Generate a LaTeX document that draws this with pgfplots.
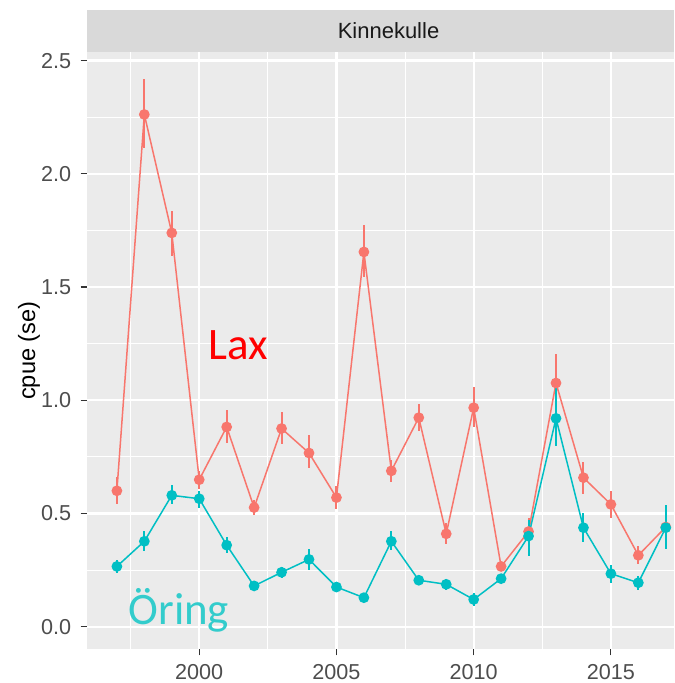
\documentclass[border=0pt]{standalone}
\usepackage{fontspec}
\setmainfont{Liberation Sans}
\newfontfamily\carlito{Carlito}
\usepackage{pgfplots}
\usepackage{pgfplotstable}
\pgfplotsset{compat=1.18}

\definecolor{laxred}{HTML}{F8766D}
\definecolor{oringteal}{HTML}{00BFC4}
\definecolor{panelgray}{HTML}{EBEBEB}
\definecolor{stripgray}{HTML}{D9D9D9}
\definecolor{ticktext}{HTML}{4D4D4D}
\definecolor{tickmark}{HTML}{333333}
\definecolor{labteal}{HTML}{33CCCC}

% cpue with upper / lower se
\pgfplotstableread{
year cpue up down
1997 0.600 0.060 0.060
1998 2.262 0.156 0.150
1999 1.739 0.096 0.100
2000 0.649 0.040 0.040
2001 0.882 0.073 0.070
2002 0.526 0.035 0.035
2003 0.875 0.075 0.070
2004 0.767 0.078 0.067
2005 0.570 0.050 0.050
2006 1.655 0.118 0.109
2007 0.688 0.050 0.050
2008 0.923 0.062 0.060
2009 0.410 0.050 0.045
2010 0.967 0.090 0.085
2011 0.266 0.020 0.020
2012 0.420 0.060 0.050
2013 1.076 0.130 0.125
2014 0.658 0.070 0.070
2015 0.540 0.060 0.060
2016 0.315 0.040 0.040
2017 0.440 0.050 0.050
}\lax

\pgfplotstableread{
year cpue up down
1997 0.266 0.030 0.030
1998 0.377 0.045 0.045
1999 0.580 0.045 0.040
2000 0.565 0.035 0.040
2001 0.360 0.035 0.035
2002 0.180 0.020 0.020
2003 0.240 0.025 0.025
2004 0.297 0.045 0.045
2005 0.175 0.020 0.020
2006 0.128 0.015 0.015
2007 0.377 0.045 0.040
2008 0.205 0.020 0.020
2009 0.187 0.025 0.025
2010 0.120 0.030 0.030
2011 0.212 0.020 0.020
2012 0.400 0.070 0.090
2013 0.920 0.140 0.120
2014 0.437 0.065 0.065
2015 0.234 0.040 0.040
2016 0.194 0.030 0.030
2017 0.437 0.100 0.095
}\oring

\begin{document}
\begin{tikzpicture}
\useasboundingbox (0,0) rectangle (337pt,341.5pt);
\begin{axis}[
    name=ax,
    at={(43.35pt,16.85pt)}, anchor=south west,
    scale only axis,
    width=293.65pt, height=298.65pt,
    xmin=1995.9, xmax=2017.3,
    ymin=-0.1, ymax=2.538,
    axis background/.style={fill=panelgray},
    axis line style={draw=none},
    grid=both,
    major grid style={white, line width=1.1pt},
    minor grid style={white, line width=0.55pt},
    xtick={2000,2005,2010,2015},
    xticklabels={2000,2005,2010,2015},
    minor xtick={1997.5,2002.5,2007.5,2012.5,2017.5},
    ytick={0,0.5,1,1.5,2,2.5},
    yticklabels={0.0,0.5,1.0,1.5,2.0,2.5},
    minor ytick={0.25,0.75,1.25,1.75,2.25},
    tick align=outside,
    xtick pos=bottom, ytick pos=left,
    major tick length=3pt, minor tick length=0pt,
    tick style={tickmark, line width=0.55pt},
    ticklabel style={font=\fontsize{10.8}{12}\selectfont, text=ticktext},
    xticklabel style={anchor=north, inner sep=0pt, yshift=-4.3pt},
    yticklabel style={anchor=east, inner sep=0pt, xshift=-4.6pt},
]
\addplot[laxred, line width=0.75pt, mark=*, mark size=2.3pt,
    mark options={solid, fill=laxred, draw=laxred},
    error bars/.cd, y dir=both, y explicit, error mark=none,
    error bar style={line width=1pt, laxred}]
    table[x=year, y=cpue, y error plus=up, y error minus=down] {\lax};
\addplot[oringteal, line width=0.75pt, mark=*, mark size=2.3pt,
    mark options={solid, fill=oringteal, draw=oringteal},
    error bars/.cd, y dir=both, y explicit, error mark=none,
    error bar style={line width=1pt, oringteal}]
    table[x=year, y=cpue, y error plus=up, y error minus=down] {\oring};

\node[anchor=base west, inner sep=0pt, text=red,
    font=\carlito\fontsize{22.5}{24}\selectfont] at (axis cs:2000.33,1.182) {Lax};
\node[anchor=base west, inner sep=0pt, text=labteal,
    font=\carlito\fontsize{22.5}{24}\selectfont] at (axis cs:1997.41,0.0075) {Öring};
\end{axis}

% facet strip
\fill[stripgray] (ax.north west) rectangle ([yshift=21pt]ax.north east);
\node[inner sep=0pt, text=black!90, font=\fontsize{11}{12}\selectfont]
    at ([xshift=150.9pt, yshift=10.5pt]ax.north west) {Kinnekulle};

\node[rotate=90, inner sep=0pt, font=\fontsize{11.8}{13}\selectfont]
    at ([xshift=-28.85pt]ax.west) {cpue (se)};
\end{tikzpicture}
\end{document}
